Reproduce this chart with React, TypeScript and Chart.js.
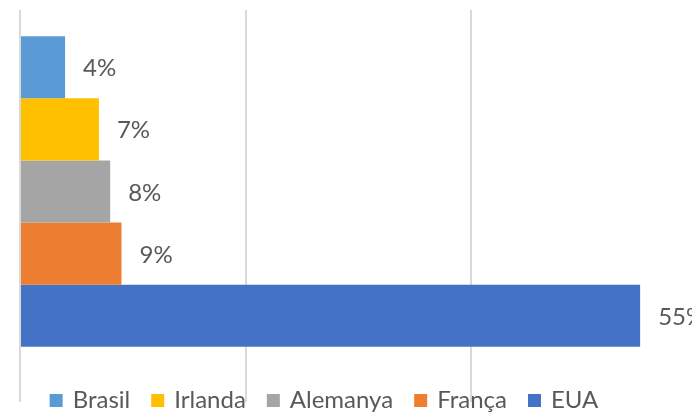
import { useEffect, useRef } from "react";
import { Chart, registerables } from "chart.js";

Chart.register(...registerables);

const categories = [""];
const seriesNames = ["Brasil", "Irlanda", "Alemanya", "França", "EUA"];
const seriesValues = [4, 7, 8, 9, 55];
const seriesColors = ["#5B9BD5", "#FFC000", "#A5A5A5", "#ED7D31", "#4472C4"];
const axisMin = 0;
const axisMax = 60;
const axisStep = 20;

const FONT = "Lato, 'Open Sans', sans-serif";
const TEXT = "#595959";

const labelPlugin = {
  id: "valueLabels",
  afterDatasetsDraw(chart: any) {
    const ctx = chart.ctx;
    ctx.save();
    ctx.font = `24px ${FONT}`;
    ctx.fillStyle = TEXT;
    ctx.textAlign = "left";
    ctx.textBaseline = "alphabetic";
    chart.data.datasets.forEach((ds: any, i: number) => {
      const meta = chart.getDatasetMeta(i);
      meta.data.forEach((bar: any, j: number) => {
        ctx.fillText(`${ds.data[j]}%`, bar.x + 18, bar.y + 9);
      });
    });
    ctx.restore();
  },
};

const legendPlugin = {
  id: "bottomLegend",
  afterDraw(chart: any) {
    const ctx = chart.ctx;
    ctx.save();
    ctx.font = `24px ${FONT}`;
    ctx.textAlign = "left";
    ctx.textBaseline = "alphabetic";
    const box = 13;
    const gapText = 10;
    const gapItem = 21;
    const center = 324;
    const baseline = 408;
    const widths = chart.data.datasets.map((ds: any) => ctx.measureText(ds.label).width);
    const total =
      widths.reduce((a: number, w: number) => a + box + gapText + w, 0) + gapItem * (widths.length - 1);
    let x = center - total / 2;
    chart.data.datasets.forEach((ds: any, i: number) => {
      ctx.fillStyle = ds.backgroundColor;
      ctx.fillRect(x, baseline - 14, box, box);
      x += box + gapText;
      ctx.fillStyle = TEXT;
      ctx.fillText(ds.label, x, baseline);
      x += widths[i] + gapItem;
    });
    ctx.restore();
  },
};

export default function App() {
  const ref = useRef<HTMLCanvasElement | null>(null);

  useEffect(() => {
    if (!ref.current) return;
    const chart = new Chart(ref.current, {
      type: "bar",
      data: {
        labels: categories,
        datasets: seriesNames.map((name, i) => ({
          label: name,
          data: [seriesValues[i]],
          backgroundColor: seriesColors[i],
          borderWidth: 0,
          categoryPercentage: 0.856,
          barPercentage: 1,
        })),
      },
      options: {
        indexAxis: "y",
        responsive: false,
        animation: false,
        devicePixelRatio: 1,
        layout: { padding: { top: 10, bottom: 10, left: 0, right: 23.5 } },
        plugins: { legend: { display: false }, tooltip: { enabled: false } },
        scales: {
          x: {
            min: axisMin,
            max: axisMax,
            ticks: { display: false, stepSize: axisStep },
            grid: { color: "#D9D9D9", lineWidth: 2, drawTicks: true, tickLength: 29 },
            border: { display: false },
            afterFit: (s: any) => {
              s.height = 29;
            },
          },
          y: {
            ticks: { display: false },
            grid: { display: false },
            border: { display: false },
            afterFit: (s: any) => {
              s.width = 20;
            },
          },
        },
      },
      plugins: [labelPlugin, legendPlugin],
    } as any);
    return () => chart.destroy();
  }, []);

  return (
    <div
      style={{
        position: "fixed",
        left: 0,
        top: 0,
        width: 692,
        height: 412,
        overflow: "hidden",
        background: "#ffffff",
      }}
    >
      <canvas ref={ref} width={720} height={412} style={{ display: "block", width: 720, height: 412 }} />
    </div>
  );
}
